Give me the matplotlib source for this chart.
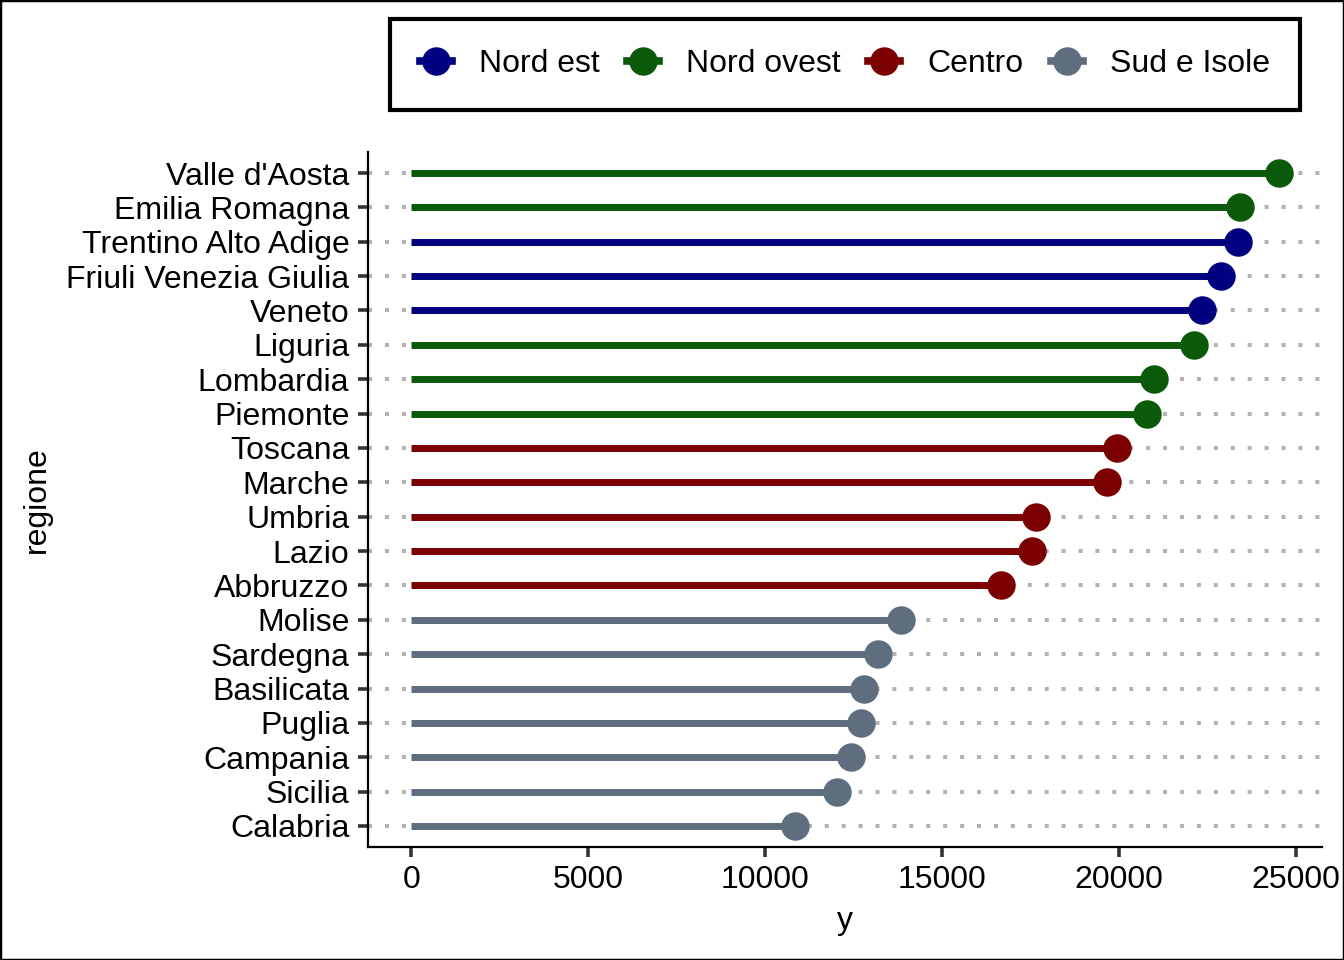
import matplotlib.pyplot as plt
from matplotlib.lines import Line2D
from matplotlib.patches import Rectangle

plt.rcParams['font.family'] = ['Liberation Sans', 'DejaVu Sans']

# regions from top to bottom, as in the picture
regioni = ["Valle d'Aosta", "Emilia Romagna", "Trentino Alto Adige",
           "Friuli Venezia Giulia", "Veneto", "Liguria", "Lombardia",
           "Piemonte", "Toscana", "Marche", "Umbria", "Lazio", "Abbruzzo",
           "Molise", "Sardegna", "Basilicata", "Puglia", "Campania",
           "Sicilia", "Calabria"]
valori = [24520, 23420, 23360, 22880, 22340, 22120, 20990, 20790, 19940,
          19660, 17660, 17540, 16670, 13840, 13190, 12800, 12710, 12430,
          12030, 10850]
zone = ["Nord ovest", "Nord ovest", "Nord est", "Nord est", "Nord est",
        "Nord ovest", "Nord ovest", "Nord ovest", "Centro", "Centro",
        "Centro", "Centro", "Centro", "Sud e Isole", "Sud e Isole",
        "Sud e Isole", "Sud e Isole", "Sud e Isole", "Sud e Isole",
        "Sud e Isole"]
zone_ordine = ["Nord est", "Nord ovest", "Centro", "Sud e Isole"]
colori = {"Nord est": "#000080", "Nord ovest": "#0a5a0a",
          "Centro": "#7d0000", "Sud e Isole": "#5e6e7e"}

W, H = 1344, 960
fig = plt.figure(figsize=(W / 100, H / 100), dpi=100)
ax = fig.add_axes([368 / W, 1 - 846.6 / H, (1322 - 368) / W, (846.6 - 152.4) / H])

n = len(regioni)
pos = [n - 1 - i for i in range(n)]

for p, v, z in zip(pos, valori, zone):
    ax.plot([0, v], [p, p], color=colori[z], lw=5, solid_capstyle='butt', zorder=2)
    ax.plot([v], [p], 'o', color=colori[z], ms=20.5, mec='none', zorder=3)

vmax = max(valori)
ax.set_xlim(-0.05 * vmax, vmax * 1.05)
ax.set_ylim(-0.6, n - 1 + 0.6)
ax.set_yticks(pos)
ax.set_yticklabels(regioni)
ax.set_xticks([0, 5000, 10000, 15000, 20000, 25000])

ax.grid(axis='y', color='#b3b3b3', linestyle=(0, (1, 3.2)), lw=2.9, zorder=0)
ax.set_axisbelow(True)

for s in ['top', 'right']:
    ax.spines[s].set_visible(False)
for s in ['left', 'bottom']:
    ax.spines[s].set_linewidth(1.6)
    ax.spines[s].set_color('black')
ax.tick_params(axis='both', length=7.5, width=2.6, color='#333333',
               labelsize=23, labelcolor='black', pad=6)

ax.set_xlabel('y', fontsize=23, labelpad=8)
ax.set_ylabel('regione', fontsize=23, labelpad=10)

handles = [Line2D([0], [0], color=colori[z], lw=5.5, marker='o', ms=20.5, mec='none')
           for z in zone_ordine]
leg = fig.legend(handles, zone_ordine, loc='center', bbox_to_anchor=(845 / W, 1 - 64.5 / H),
                 ncol=4, fontsize=23, frameon=True, fancybox=False, framealpha=1,
                 handlelength=1.0, handletextpad=0.85, columnspacing=0.85,
                 borderpad=0.95, borderaxespad=0)
leg.get_frame().set_edgecolor('black')
leg.get_frame().set_linewidth(3)

fig.patches.append(Rectangle((0, 0), 1, 1, transform=fig.transFigure, fill=False,
                             edgecolor='black', lw=2.5))

fig.savefig('out.png', dpi=100)
